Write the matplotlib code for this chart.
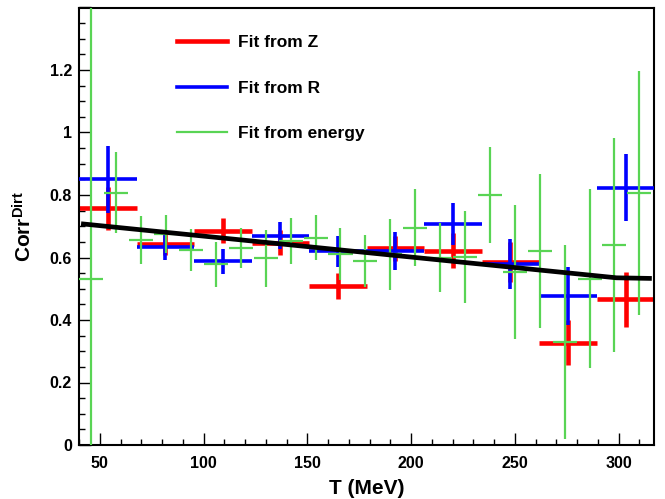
import matplotlib
matplotlib.use("Agg")
import matplotlib.pyplot as plt
from matplotlib.lines import Line2D
from matplotlib.ticker import MultipleLocator

plt.rcParams['font.family'] = ['Liberation Sans', 'DejaVu Sans']
plt.rcParams['font.weight'] = 'bold'
plt.rcParams['mathtext.fontset'] = 'custom'
plt.rcParams['mathtext.rm'] = 'Liberation Sans:bold'
plt.rcParams['mathtext.bf'] = 'Liberation Sans:bold'

# ---- data ----
coarse_x = [53.86, 81.58, 109.30, 137.02, 164.74, 192.46, 220.18, 247.90, 275.62, 303.34]
coarse_xerr = 13.86

z_y = [0.757, 0.643, 0.685, 0.648, 0.508, 0.630, 0.622, 0.586, 0.328, 0.466]
z_err = [0.070, 0.035, 0.040, 0.040, 0.042, 0.040, 0.056, 0.064, 0.073, 0.089]

r_y = [0.850, 0.633, 0.588, 0.669, 0.620, 0.621, 0.708, 0.579, 0.476, 0.824]
r_err = [0.106, 0.041, 0.040, 0.043, 0.050, 0.060, 0.067, 0.081, 0.093, 0.108]

fine_x = [46, 58, 70, 82, 94, 106, 118, 130, 142, 154, 166, 178,
          190, 202, 214, 226, 238, 250, 262, 274, 286, 298, 310]
fine_xerr = 5.8
e_y = [0.530, 0.807, 0.656, 0.675, 0.624, 0.578, 0.630, 0.597, 0.653, 0.664,
       0.610, 0.589, 0.610, 0.696, 0.600, 0.603, 0.800, 0.554, 0.622, 0.330,
       0.532, 0.640, 0.806]
e_err = [0.950, 0.130, 0.076, 0.062, 0.066, 0.072, 0.065, 0.090, 0.073, 0.073,
         0.083, 0.082, 0.114, 0.123, 0.110, 0.147, 0.154, 0.214, 0.246, 0.310,
         0.287, 0.341, 0.390]

fit_x = [41, 299, 316]
fit_y = [0.708, 0.535, 0.533]

RED = '#ff0000'
BLUE = '#0000ff'
GREEN = '#59d454'

fig = plt.figure(figsize=(6.65, 4.99), dpi=100)
ax = fig.add_axes([79/665, 1 - 445/499, (654.3 - 79)/665, (445 - 7.5)/499])

ax.errorbar(coarse_x, z_y, xerr=coarse_xerr, yerr=z_err, fmt='none',
            ecolor=RED, elinewidth=3.3, capsize=0, zorder=2)
ax.errorbar(coarse_x, r_y, xerr=coarse_xerr, yerr=r_err, fmt='none',
            ecolor=BLUE, elinewidth=2.6, capsize=0, zorder=3)
ax.errorbar(fine_x, e_y, xerr=fine_xerr, yerr=e_err, fmt='none',
            ecolor=GREEN, elinewidth=1.6, capsize=0, zorder=4)
ax.plot(fit_x, fit_y, color='black', lw=3.4, zorder=5, solid_capstyle='butt')

ax.set_xlim(40, 317.2)
ax.set_ylim(0, 1.4)
ax.xaxis.set_major_locator(MultipleLocator(50))
ax.xaxis.set_minor_locator(MultipleLocator(10))
ax.yaxis.set_major_locator(MultipleLocator(0.2))
ax.yaxis.set_minor_locator(MultipleLocator(0.05))
ax.yaxis.set_major_formatter(plt.FuncFormatter(lambda v, p: '' if v > 1.3 else f'{v:g}'))

ax.tick_params(which='both', direction='in', top=False, right=False, width=1.0,
               labelsize=11.5)
ax.tick_params(which='major', length=8.6)
ax.tick_params(which='minor', length=4.3)
ax.tick_params(axis='x', pad=8)
ax.tick_params(axis='y', pad=5)
for s in ax.spines.values():
    s.set_linewidth(1.5)

ax.set_xlabel('T (MeV)', fontsize=15, fontweight='bold', labelpad=6)
ax.set_ylabel(r'$\mathbf{Corr^{Dirt}}$', fontsize=15, labelpad=10)

handles = [Line2D([], [], color=RED, lw=3.3),
           Line2D([], [], color=BLUE, lw=2.6),
           Line2D([], [], color=GREEN, lw=1.6)]
labels = ['Fit from Z', 'Fit from R', 'Fit from energy']
leg = ax.legend(handles, labels, loc='upper left', frameon=False,
                bbox_to_anchor=(176.7/665, 1 - 35/499), bbox_transform=fig.transFigure,
                borderpad=0, borderaxespad=0, handlelength=2.9, handletextpad=0.65,
                labelspacing=1.75, prop={'size': 12.5, 'weight': 'bold'})

fig.savefig('out.png', dpi=100)
